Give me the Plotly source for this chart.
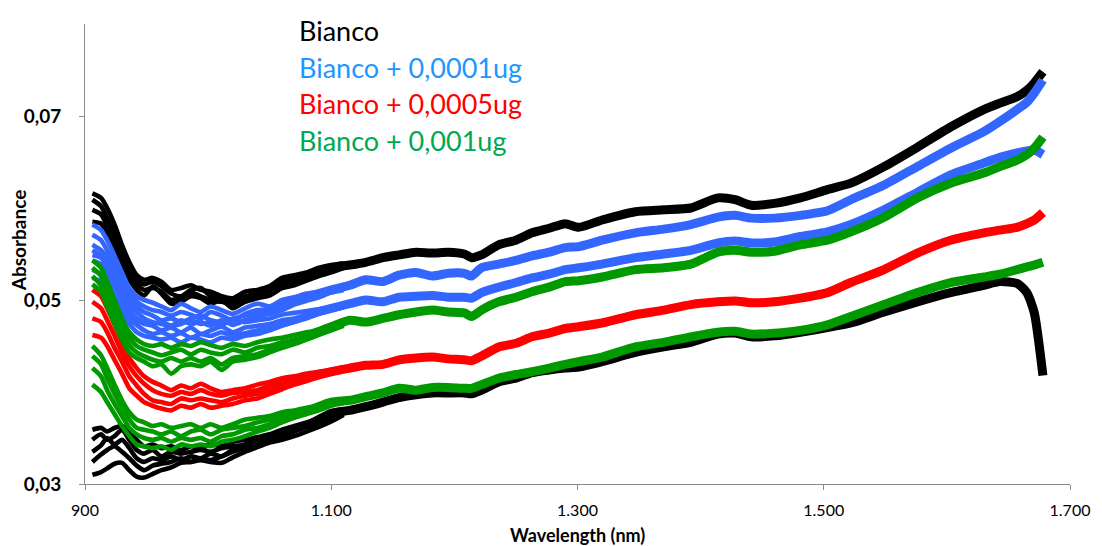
import plotly.graph_objects as go

# Wavelength grids (nm): dense grid for the noisy start of each spectrum,
# coarser grid for the smooth remainder of each band of replicates.
LEFT_WL = [906, 913, 918, 924, 930, 936, 942, 948, 955, 962, 970, 978, 986,
           994, 1002, 1011, 1020, 1030, 1040, 1050, 1060, 1070, 1080, 1090,
           1100, 1110]
TAIL_WL = [1080, 1100, 1115, 1128, 1142, 1155, 1169, 1182, 1195, 1208, 1214, 1222,
           1236, 1250, 1263, 1277, 1290, 1301, 1320, 1347, 1370, 1392, 1414,
           1428, 1441, 1460, 1481, 1503, 1522, 1549, 1576, 1603, 1630, 1643,
           1657, 1665, 1671, 1678]

# ---- Bianco, first set -------------------------------------------------
bianco_1_left = [
    [0.0616, 0.0611, 0.0600, 0.0582, 0.0560, 0.0541, 0.0527, 0.0522, 0.0524, 0.0520, 0.0511, 0.0513, 0.0516,
     0.0511, 0.0509, 0.0504, 0.0502, 0.0509, 0.0511, 0.0515, 0.0524, 0.0527, 0.0530, 0.0535, 0.0538, 0.0540],
    [0.0609, 0.0602, 0.0589, 0.0571, 0.0549, 0.0533, 0.0522, 0.0517, 0.0520, 0.0515, 0.0507, 0.0504, 0.0511,
     0.0513, 0.0504, 0.0501, 0.0498, 0.0504, 0.0507, 0.0512, 0.0520, 0.0523, 0.0527, 0.0532, 0.0535, 0.0538],
    [0.0598, 0.0593, 0.0580, 0.0560, 0.0541, 0.0526, 0.0517, 0.0511, 0.0513, 0.0509, 0.0500, 0.0503, 0.0508,
     0.0504, 0.0500, 0.0498, 0.0495, 0.0500, 0.0503, 0.0509, 0.0516, 0.0520, 0.0524, 0.0528, 0.0533, 0.0536],
    [0.0585, 0.0583, 0.0571, 0.0552, 0.0535, 0.0522, 0.0511, 0.0505, 0.0515, 0.0507, 0.0496, 0.0498, 0.0504,
     0.0502, 0.0496, 0.0500, 0.0491, 0.0498, 0.0502, 0.0505, 0.0513, 0.0516, 0.0521, 0.0526, 0.0530, 0.0535],
]
bianco_1_tail = [0.0526, 0.0535, 0.0538, 0.0541, 0.0546, 0.0549, 0.0552, 0.0551, 0.0552, 0.0550, 0.0546, 0.0549,
                 0.0560, 0.0565, 0.0573, 0.0578, 0.0583, 0.0579, 0.0587, 0.0596, 0.0598, 0.0600, 0.0611,
                 0.0609, 0.0603, 0.0605, 0.0611, 0.0620, 0.0627, 0.0645, 0.0666, 0.0688, 0.0707, 0.0714,
                 0.0721, 0.0728, 0.0736, 0.0748]

# ---- Bianco, second set ------------------------------------------------
bianco_2_left = [
    [0.0359, 0.0361, 0.0357, 0.0361, 0.0363, 0.0357, 0.0348, 0.0341, 0.0343, 0.0339, 0.0341, 0.0337, 0.0341,
     0.0339, 0.0343, 0.0341, 0.0346, 0.0348, 0.0351, 0.0354, 0.0359, 0.0363, 0.0367, 0.0371, 0.0375, 0.0379],
    [0.0348, 0.0354, 0.0348, 0.0352, 0.0359, 0.0348, 0.0337, 0.0333, 0.0337, 0.0330, 0.0335, 0.0333, 0.0335,
     0.0337, 0.0335, 0.0339, 0.0341, 0.0343, 0.0348, 0.0351, 0.0355, 0.0361, 0.0365, 0.0370, 0.0374, 0.0378],
    [0.0335, 0.0342, 0.0350, 0.0343, 0.0348, 0.0339, 0.0328, 0.0324, 0.0328, 0.0326, 0.0330, 0.0326, 0.0330,
     0.0328, 0.0333, 0.0330, 0.0337, 0.0339, 0.0343, 0.0348, 0.0353, 0.0359, 0.0363, 0.0368, 0.0373, 0.0377],
    [0.0324, 0.0332, 0.0337, 0.0341, 0.0335, 0.0328, 0.0320, 0.0315, 0.0320, 0.0322, 0.0324, 0.0328, 0.0324,
     0.0328, 0.0326, 0.0330, 0.0335, 0.0339, 0.0341, 0.0347, 0.0351, 0.0357, 0.0362, 0.0367, 0.0372, 0.0376],
    [0.0310, 0.0313, 0.0317, 0.0322, 0.0323, 0.0315, 0.0308, 0.0307, 0.0311, 0.0315, 0.0318, 0.0323, 0.0324,
     0.0326, 0.0324, 0.0323, 0.0329, 0.0335, 0.0340, 0.0345, 0.0348, 0.0352, 0.0357, 0.0362, 0.0368, 0.0375],
]
bianco_2_tail = [0.0363, 0.0377, 0.0380, 0.0384, 0.0389, 0.0394, 0.0397, 0.0399, 0.0399, 0.0399, 0.0398, 0.0402,
                 0.0411, 0.0415, 0.0421, 0.0424, 0.0426, 0.0427, 0.0433, 0.0443, 0.0449, 0.0454, 0.0463,
                 0.0464, 0.0460, 0.0461, 0.0465, 0.0470, 0.0475, 0.0487, 0.0498, 0.0508, 0.0516, 0.0520,
                 0.0518, 0.0508, 0.0486, 0.0418]

# ---- Bianco + 0,0001ug, first set --------------------------------------
add_0001_1_left = [
    [0.0582, 0.0576, 0.0565, 0.0548, 0.0530, 0.0513, 0.0504, 0.0500, 0.0497, 0.0493, 0.0489, 0.0496, 0.0491,
     0.0487, 0.0493, 0.0489, 0.0485, 0.0491, 0.0496, 0.0493, 0.0500, 0.0503, 0.0507, 0.0509, 0.0512, 0.0515],
    [0.0571, 0.0565, 0.0554, 0.0538, 0.0522, 0.0507, 0.0498, 0.0493, 0.0489, 0.0487, 0.0483, 0.0487, 0.0484,
     0.0480, 0.0487, 0.0483, 0.0478, 0.0485, 0.0489, 0.0490, 0.0496, 0.0500, 0.0503, 0.0507, 0.0510, 0.0513],
    [0.0560, 0.0554, 0.0546, 0.0530, 0.0514, 0.0502, 0.0493, 0.0487, 0.0483, 0.0478, 0.0480, 0.0476, 0.0480,
     0.0483, 0.0478, 0.0476, 0.0480, 0.0483, 0.0485, 0.0487, 0.0492, 0.0498, 0.0501, 0.0504, 0.0509, 0.0512],
    [0.0549, 0.0546, 0.0537, 0.0522, 0.0507, 0.0495, 0.0487, 0.0480, 0.0476, 0.0474, 0.0472, 0.0478, 0.0474,
     0.0476, 0.0472, 0.0478, 0.0473, 0.0478, 0.0482, 0.0485, 0.0489, 0.0495, 0.0499, 0.0503, 0.0508, 0.0511],
]
add_0001_1_tail = [0.0503, 0.0511, 0.0516, 0.0522, 0.0520, 0.0527, 0.0530, 0.0526, 0.0529, 0.0529, 0.0526, 0.0535,
                   0.0539, 0.0543, 0.0548, 0.0552, 0.0557, 0.0558, 0.0565, 0.0573, 0.0577, 0.0582, 0.0590,
                   0.0592, 0.0589, 0.0589, 0.0592, 0.0597, 0.0609, 0.0625, 0.0645, 0.0665, 0.0683, 0.0694,
                   0.0707, 0.0715, 0.0725, 0.0739]

# ---- Bianco + 0,0001ug, second set -------------------------------------
add_0001_2_left = [
    [0.0543, 0.0539, 0.0530, 0.0515, 0.0500, 0.0487, 0.0478, 0.0474, 0.0472, 0.0467, 0.0470, 0.0465, 0.0470,
     0.0463, 0.0467, 0.0471, 0.0465, 0.0470, 0.0472, 0.0474, 0.0478, 0.0480, 0.0484, 0.0487, 0.0490, 0.0493],
    [0.0533, 0.0528, 0.0520, 0.0505, 0.0491, 0.0480, 0.0473, 0.0467, 0.0463, 0.0465, 0.0461, 0.0464, 0.0459,
     0.0463, 0.0461, 0.0465, 0.0461, 0.0464, 0.0467, 0.0471, 0.0475, 0.0478, 0.0482, 0.0486, 0.0489, 0.0492],
    [0.0524, 0.0520, 0.0511, 0.0498, 0.0485, 0.0474, 0.0465, 0.0461, 0.0459, 0.0457, 0.0459, 0.0454, 0.0459,
     0.0457, 0.0454, 0.0459, 0.0457, 0.0461, 0.0463, 0.0467, 0.0472, 0.0476, 0.0480, 0.0485, 0.0489, 0.0492],
    [0.0554, 0.0548, 0.0537, 0.0522, 0.0504, 0.0489, 0.0480, 0.0476, 0.0474, 0.0476, 0.0472, 0.0474, 0.0478,
     0.0474, 0.0476, 0.0473, 0.0478, 0.0476, 0.0478, 0.0480, 0.0484, 0.0486, 0.0488, 0.0490, 0.0492, 0.0495],
]
add_0001_2_tail = [0.0484, 0.0491, 0.0496, 0.0500, 0.0498, 0.0503, 0.0504, 0.0505, 0.0503, 0.0503, 0.0502, 0.0508,
                   0.0514, 0.0519, 0.0524, 0.0528, 0.0533, 0.0535, 0.0539, 0.0546, 0.0550, 0.0554, 0.0562,
                   0.0564, 0.0562, 0.0563, 0.0569, 0.0574, 0.0582, 0.0598, 0.0617, 0.0636, 0.0649, 0.0655,
                   0.0660, 0.0662, 0.0663, 0.0658]

# ---- Bianco + 0,0005ug -------------------------------------------------
add_0005_left = [
    [0.0511, 0.0504, 0.0491, 0.0473, 0.0454, 0.0437, 0.0426, 0.0417, 0.0411, 0.0407, 0.0402, 0.0407, 0.0404,
     0.0409, 0.0404, 0.0400, 0.0402, 0.0404, 0.0408, 0.0411, 0.0415, 0.0417, 0.0420, 0.0422, 0.0424, 0.0427],
    [0.0498, 0.0491, 0.0478, 0.0461, 0.0443, 0.0428, 0.0417, 0.0409, 0.0402, 0.0398, 0.0396, 0.0400, 0.0398,
     0.0402, 0.0398, 0.0396, 0.0399, 0.0400, 0.0402, 0.0407, 0.0411, 0.0413, 0.0416, 0.0420, 0.0422, 0.0425],
    [0.0480, 0.0476, 0.0465, 0.0448, 0.0433, 0.0417, 0.0407, 0.0398, 0.0391, 0.0389, 0.0387, 0.0393, 0.0391,
     0.0393, 0.0391, 0.0389, 0.0393, 0.0396, 0.0398, 0.0402, 0.0407, 0.0410, 0.0414, 0.0417, 0.0421, 0.0424],
    [0.0462, 0.0459, 0.0450, 0.0435, 0.0420, 0.0404, 0.0396, 0.0389, 0.0385, 0.0382, 0.0380, 0.0385, 0.0383,
     0.0387, 0.0383, 0.0385, 0.0387, 0.0391, 0.0393, 0.0398, 0.0403, 0.0408, 0.0412, 0.0416, 0.0420, 0.0423],
]
add_0005_tail = [0.0416, 0.0422, 0.0426, 0.0429, 0.0430, 0.0435, 0.0437, 0.0438, 0.0436, 0.0435, 0.0434, 0.0439,
                 0.0449, 0.0453, 0.0460, 0.0464, 0.0469, 0.0471, 0.0475, 0.0484, 0.0489, 0.0495, 0.0498,
                 0.0499, 0.0497, 0.0498, 0.0502, 0.0508, 0.0519, 0.0533, 0.0551, 0.0565, 0.0573, 0.0576,
                 0.0579, 0.0583, 0.0587, 0.0595]

# ---- Bianco + 0,001ug, first set ---------------------------------------
add_001_1_left = [
    [0.0543, 0.0535, 0.0520, 0.0500, 0.0480, 0.0465, 0.0457, 0.0452, 0.0450, 0.0452, 0.0448, 0.0452, 0.0450,
     0.0454, 0.0451, 0.0448, 0.0452, 0.0450, 0.0454, 0.0457, 0.0459, 0.0462, 0.0465, 0.0467, 0.0472, 0.0476],
    [0.0535, 0.0526, 0.0511, 0.0491, 0.0473, 0.0459, 0.0450, 0.0446, 0.0443, 0.0440, 0.0443, 0.0446, 0.0441,
     0.0446, 0.0443, 0.0441, 0.0446, 0.0443, 0.0448, 0.0450, 0.0454, 0.0457, 0.0461, 0.0464, 0.0470, 0.0474],
    [0.0526, 0.0516, 0.0502, 0.0483, 0.0465, 0.0451, 0.0443, 0.0439, 0.0435, 0.0433, 0.0437, 0.0433, 0.0437,
     0.0433, 0.0437, 0.0430, 0.0437, 0.0439, 0.0441, 0.0446, 0.0450, 0.0454, 0.0459, 0.0463, 0.0468, 0.0473],
    [0.0517, 0.0509, 0.0493, 0.0474, 0.0457, 0.0443, 0.0437, 0.0433, 0.0428, 0.0430, 0.0420, 0.0428, 0.0430,
     0.0428, 0.0433, 0.0424, 0.0433, 0.0435, 0.0438, 0.0443, 0.0448, 0.0452, 0.0457, 0.0462, 0.0467, 0.0472],
]
add_001_1_tail = [0.0461, 0.0471, 0.0478, 0.0476, 0.0480, 0.0484, 0.0487, 0.0489, 0.0487, 0.0486, 0.0482, 0.0489,
                  0.0498, 0.0503, 0.0509, 0.0514, 0.0520, 0.0521, 0.0525, 0.0533, 0.0535, 0.0539, 0.0552,
                  0.0554, 0.0552, 0.0553, 0.0560, 0.0565, 0.0574, 0.0590, 0.0611, 0.0627, 0.0638, 0.0645,
                  0.0652, 0.0658, 0.0665, 0.0677]

# ---- Bianco + 0,001ug, second set --------------------------------------
add_001_2_left = [
    [0.0450, 0.0440, 0.0426, 0.0408, 0.0391, 0.0378, 0.0370, 0.0367, 0.0363, 0.0365, 0.0361, 0.0363, 0.0365,
     0.0361, 0.0365, 0.0361, 0.0365, 0.0370, 0.0372, 0.0374, 0.0378, 0.0380, 0.0383, 0.0385, 0.0388, 0.0391],
    [0.0439, 0.0430, 0.0415, 0.0398, 0.0383, 0.0370, 0.0361, 0.0359, 0.0357, 0.0354, 0.0357, 0.0352, 0.0357,
     0.0359, 0.0354, 0.0359, 0.0361, 0.0363, 0.0367, 0.0370, 0.0374, 0.0377, 0.0380, 0.0384, 0.0387, 0.0390],
    [0.0426, 0.0417, 0.0402, 0.0387, 0.0374, 0.0361, 0.0354, 0.0350, 0.0348, 0.0350, 0.0346, 0.0350, 0.0348,
     0.0350, 0.0346, 0.0352, 0.0354, 0.0359, 0.0361, 0.0365, 0.0371, 0.0374, 0.0378, 0.0382, 0.0386, 0.0389],
    [0.0408, 0.0400, 0.0389, 0.0376, 0.0363, 0.0352, 0.0343, 0.0341, 0.0339, 0.0341, 0.0337, 0.0343, 0.0341,
     0.0343, 0.0341, 0.0346, 0.0348, 0.0352, 0.0357, 0.0361, 0.0367, 0.0372, 0.0376, 0.0380, 0.0385, 0.0388],
]
add_001_2_tail = [0.0379, 0.0389, 0.0391, 0.0395, 0.0399, 0.0404, 0.0402, 0.0405, 0.0405, 0.0404, 0.0404, 0.0408,
                  0.0415, 0.0419, 0.0422, 0.0426, 0.0430, 0.0433, 0.0438, 0.0449, 0.0454, 0.0460, 0.0465,
                  0.0466, 0.0463, 0.0464, 0.0467, 0.0473, 0.0482, 0.0495, 0.0508, 0.0519, 0.0525, 0.0528,
                  0.0533, 0.0536, 0.0538, 0.0541]

LEGEND_LABELS = ["Bianco", "Bianco + 0,0001ug", "Bianco + 0,0005ug", "Bianco + 0,001ug"]
X_TICKS = [900, 1100, 1300, 1500, 1700]
X_TICK_TEXT = ["900", "1.100", "1.300", "1.500", "1.700"]
Y_TICKS = [0.03, 0.05, 0.07]
Y_TICK_TEXT = ["0,03", "0,05", "0,07"]

# series -> line colour, legend-text colour, sets of replicate spectra
series = [
    ("#000000", "#000000", [(bianco_1_left, bianco_1_tail), (bianco_2_left, bianco_2_tail)]),
    ("#3366FF", "#1E96FF", [(add_0001_1_left, add_0001_1_tail), (add_0001_2_left, add_0001_2_tail)]),
    ("#FF0000", "#FF0000", [(add_0005_left, add_0005_tail)]),
    ("#009900", "#00A84F", [(add_001_1_left, add_001_1_tail), (add_001_2_left, add_001_2_tail)]),
]

FONT = "Lato"

fig = go.Figure()
for line_color, _, sets in series:
    for left_spectra, tail in sets:
        fig.add_trace(go.Scatter(
            x=TAIL_WL, y=tail, mode="lines", hoverinfo="skip", showlegend=False,
            line=dict(color=line_color, width=9, shape="spline", smoothing=0.6)))
        for spectrum in left_spectra:
            fig.add_trace(go.Scatter(
                x=LEFT_WL, y=spectrum, mode="lines", hoverinfo="skip", showlegend=False,
                line=dict(color=line_color, width=4.6, shape="spline", smoothing=0.7)))

# coloured text block acting as the legend
legend_y = [0.986, 0.906, 0.827, 0.747]
annotations = []
for (_, text_color, _), label, yy in zip(series, LEGEND_LABELS, legend_y):
    annotations.append(dict(
        x=0.2156, y=yy, xref="paper", yref="paper", xanchor="left", yanchor="middle",
        text=label, showarrow=False, font=dict(family=FONT, size=27, color=text_color)))

annotations.append(dict(
    x=0.5, y=-0.111, xref="paper", yref="paper", xanchor="center", yanchor="middle",
    text="<b>Wavelength (nm)</b>", showarrow=False, font=dict(family=FONT, size=18, color="#000000")))
annotations.append(dict(
    x=-0.068, y=0.53, xref="paper", yref="paper", xanchor="center", yanchor="middle",
    text="<b>Absorbance</b>", textangle=-90, showarrow=False,
    font=dict(family=FONT, size=19, color="#000000")))

fig.update_layout(
    width=1102, height=546,
    margin=dict(l=85, r=29, t=24, b=62),
    paper_bgcolor="white", plot_bgcolor="white",
    showlegend=False,
    annotations=annotations,
    xaxis=dict(
        range=[900, 1700], tickvals=X_TICKS, ticktext=X_TICK_TEXT,
        showline=True, linecolor="#8C8C8C", linewidth=1,
        ticks="outside", ticklen=5, tickcolor="#8C8C8C",
        showgrid=False, zeroline=False, ticklabelstandoff=7,
        tickfont=dict(family=FONT, size=16, color="#000000")),
    yaxis=dict(
        range=[0.03, 0.08], tickvals=Y_TICKS, ticktext=Y_TICK_TEXT,
        showline=True, linecolor="#8C8C8C", linewidth=1,
        ticks="outside", ticklen=5, tickcolor="#8C8C8C",
        showgrid=False, zeroline=False, ticklabelstandoff=14,
        tickfont=dict(family=FONT, size=19, color="#000000", weight="bold")),
)

fig.write_html("out.html")
